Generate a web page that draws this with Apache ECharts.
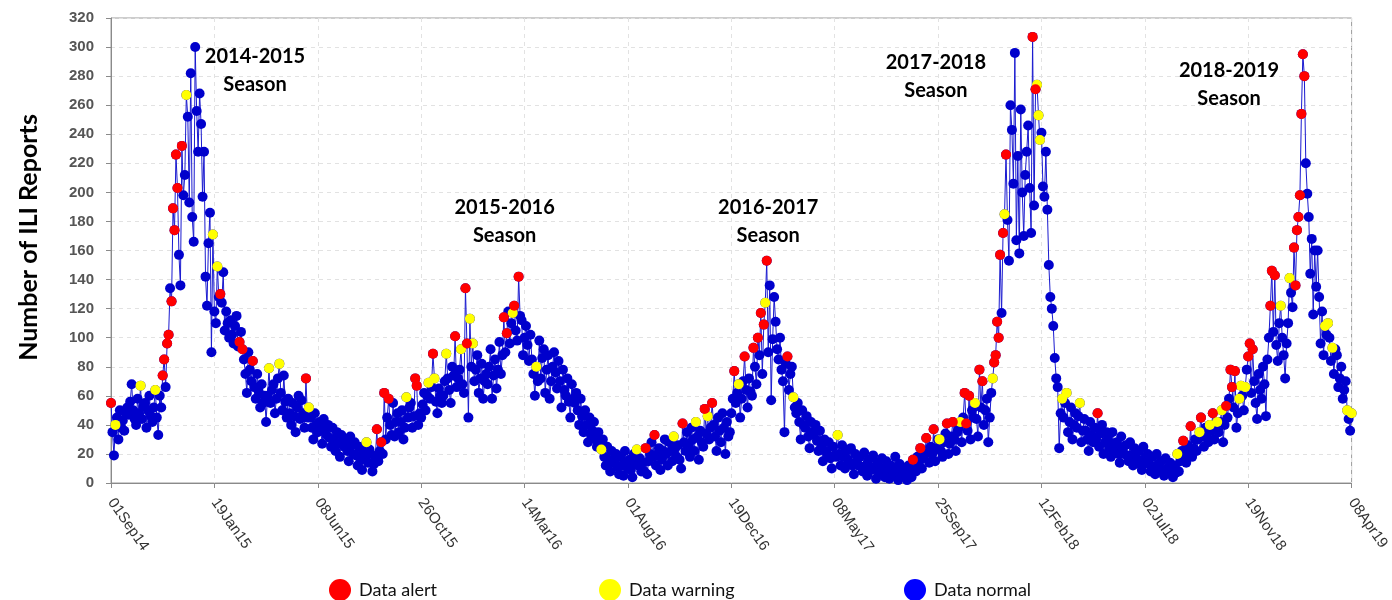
<!DOCTYPE html>
<html>
<head>
<meta charset="utf-8">
<script src="https://cdn.jsdelivr.net/npm/echarts@6/dist/echarts.min.js"></script>
<style>
html,body{margin:0;padding:0;background:#fff;}
#chart{width:1392px;height:600px;}
</style>
</head>
<body>
<div id="chart"></div>
<script>
// ---- data ----
const startDateUTC = Date.UTC(2014, 8, 1); // 01Sep14
const dayStep = 2;          // one reading every 2 days
const tickDays = 140;       // axis tick spacing (days)
const axisDays = 1680;      // 01Sep14 .. 08Apr19
const monthNames = ['Jan','Feb','Mar','Apr','May','Jun','Jul','Aug','Sep','Oct','Nov','Dec'];

const counts = [
55,35,19,40,45,30,50,38,43,36,48,52,47,56,68,
50,44,40,58,48,67,44,53,55,38,50,60,46,42,52,
64,45,33,60,52,74,85,66,96,102,134,125,189,174,226,
203,157,136,232,198,212,267,252,193,282,183,166,300,256,228,
268,247,197,228,142,122,165,186,90,171,118,110,149,128,130,
124,145,105,118,110,100,112,102,96,108,115,94,97,104,92,
85,75,62,90,78,70,84,66,58,75,63,52,68,55,60,
42,60,79,55,64,68,48,58,72,82,62,50,74,56,45,
58,48,40,55,46,35,52,60,44,57,48,38,72,45,52,
45,38,30,48,40,35,42,36,27,44,38,33,40,31,25,
38,30,22,35,27,18,33,28,25,30,22,15,32,26,20,
28,19,12,25,16,9,22,17,28,14,23,20,8,13,18,
37,15,22,28,20,62,30,45,58,40,33,55,32,42,48,
35,42,50,30,38,59,45,52,55,38,46,72,67,40,48,
45,54,62,50,60,69,58,66,89,72,56,48,65,60,55,
60,70,89,72,64,55,80,74,101,66,72,78,92,68,62,
134,96,45,113,80,96,70,78,88,62,72,82,58,70,75,
68,80,92,58,74,85,65,78,97,75,88,114,90,103,118,
96,110,117,122,105,98,142,115,112,88,100,108,95,84,102,
85,75,60,80,70,98,72,86,92,62,78,88,58,70,80,
90,76,65,84,70,52,78,64,60,72,56,45,68,58,55,
62,50,40,58,46,35,50,40,28,45,33,36,42,30,25,
35,28,23,30,18,12,25,16,8,22,14,15,20,11,6,
18,12,5,22,14,10,16,9,4,20,13,23,12,17,8,
14,8,24,6,15,20,28,18,33,12,20,24,9,16,22,
30,20,12,28,22,15,32,24,18,26,16,10,41,28,22,
35,26,18,38,30,22,42,32,16,36,28,25,51,34,46,
30,38,55,40,32,22,45,36,28,48,38,20,42,32,35,
48,58,77,55,62,68,45,58,70,87,64,52,72,63,60,
93,80,68,100,88,117,75,109,124,153,90,136,57,99,128,
111,92,85,100,78,70,35,82,87,64,75,80,59,52,48,
55,42,30,50,40,38,46,32,24,42,35,33,40,29,22,
36,25,15,30,22,20,28,17,10,25,19,18,33,20,12,
26,18,10,22,16,14,24,12,6,20,15,12,18,11,8,
21,12,5,16,10,9,19,11,3,14,8,7,17,10,4,
15,8,3,12,9,6,18,10,2,13,7,5,10,6,2,
12,6,4,16,9,8,18,13,24,10,17,20,31,22,14,
25,20,37,15,24,30,30,22,18,28,34,41,20,27,32,
42,30,22,35,38,42,28,45,62,41,36,60,30,50,45,
55,44,32,78,52,70,40,50,58,28,45,62,72,83,88,
111,100,157,117,172,185,226,181,153,260,243,206,296,167,225,
158,257,200,170,212,228,246,203,172,307,191,271,274,253,236,
241,204,197,228,188,150,128,120,108,86,72,66,24,48,58,
45,55,62,35,42,52,30,40,48,38,46,55,28,36,44,
36,30,22,42,33,28,38,30,48,25,34,40,20,28,35,
30,24,18,35,27,22,28,20,14,32,24,20,26,19,15,
28,19,12,24,18,16,22,13,9,25,17,14,20,13,8,
18,11,6,20,13,10,15,9,5,17,10,8,14,9,4,
12,7,20,8,15,22,29,18,14,26,21,39,18,24,30,
22,30,35,45,32,25,38,33,28,40,36,48,30,38,42,
35,42,50,28,40,53,45,58,78,66,52,77,38,48,58,
67,60,50,66,78,87,96,62,92,70,55,44,75,64,58,
80,68,46,85,100,122,146,104,143,95,84,110,122,100,88,
72,96,110,141,131,121,162,136,174,183,198,254,295,280,220,
199,183,144,168,116,160,135,160,128,96,118,88,108,102,110,
100,84,93,75,92,88,66,72,80,58,64,70,50,44,36,
48
];

// indices (into counts) flagged as alerts / warnings
const alertIdx = [0,35,36,38,39,41,42,43,44,45,48,74,87,89,96,132,180,183,185,188,206,207,218,233,240,241,
  266,268,273,276,362,368,387,402,407,422,429,435,438,440,442,444,458,543,548,552,557,566,570,578,579,581,
  588,590,598,599,600,601,602,604,606,624,626,668,726,731,738,746,755,758,759,761,770,771,773,785,786,788,
  801,802,803,804,805,806,807,808];
const warnIdx = [3,20,30,51,69,72,107,114,134,173,200,215,219,227,237,243,245,272,288,332,356,381,396,404,
  425,443,462,492,561,575,585,597,605,627,628,629,644,647,656,722,737,744,749,752,764,765,768,792,798,
  822,824,827,837,840];

const seriesNames = ['Data alert', 'Data warning', 'Data normal'];
const yTicks = {min: 0, max: 320, step: 20};

const seasonLabels = [
  {text: '2014-2015\nSeason', day: 195,  value: 284},
  {text: '2015-2016\nSeason', day: 533,  value: 180},
  {text: '2016-2017\nSeason', day: 890,  value: 180},
  {text: '2017-2018\nSeason', day: 1117, value: 280},
  {text: '2018-2019\nSeason', day: 1514, value: 274}
];

// ---- build ----
const allPts = counts.map((v, i) => [i * dayStep, v]);
const alertPts = alertIdx.map(i => allPts[i]);
const warnPts = warnIdx.map(i => allPts[i]);

function fmtDay(v) {
  const d = new Date(startDateUTC + v * 86400000);
  const dd = String(d.getUTCDate()).padStart(2, '0');
  return dd + monthNames[d.getUTCMonth()] + String(d.getUTCFullYear()).slice(2);
}

const chart = echarts.init(document.getElementById('chart'), null, {renderer: 'canvas'});
const legendBase = {
  orient: 'horizontal', top: 574, icon: 'circle', itemWidth: 22, itemHeight: 22,
  selectedMode: false,
  textStyle: {fontFamily: 'Lato', fontSize: 18, color: '#111', padding: [0, 0, 0, 3]}
};
chart.setOption({
  animation: false,
  backgroundColor: '#fff',
  grid: {left: 111, right: 39, top: 18, bottom: 117, show: true, borderColor: '#9a9a9a', borderWidth: 1, containLabel: false},
  legend: [
    Object.assign({}, legendBase, {left: 324, data: [{name: seriesNames[0], itemStyle: {color: '#ff0000'}}]}),
    Object.assign({}, legendBase, {left: 594, data: [{name: seriesNames[1], itemStyle: {color: '#ffff00'}}]}),
    Object.assign({}, legendBase, {left: 899, data: [{name: seriesNames[2], itemStyle: {color: '#0000ff'}}]})
  ],
  xAxis: {
    type: 'value', min: 0, max: axisDays, interval: tickDays, offset: 9,
    axisLine: {show: true, lineStyle: {color: '#8a8a8a'}},
    axisTick: {show: true, length: 5, lineStyle: {color: '#8a8a8a'}},
    axisLabel: {rotate: -55, formatter: fmtDay, color: '#333', fontFamily: 'Liberation Sans', fontSize: 15, margin: 8},
    splitLine: {show: true, lineStyle: {color: '#e2e2e2', type: [4, 4]}}
  },
  yAxis: {
    type: 'value', min: yTicks.min, max: yTicks.max, interval: yTicks.step, offset: 7,
    name: 'Number of ILI Reports', nameLocation: 'middle', nameGap: 63, nameRotate: 90,
    nameTextStyle: {fontFamily: 'Lato', fontWeight: 'bold', fontSize: 25, color: '#000', padding: [0, 0, 0, 26]},
    axisLine: {show: true, lineStyle: {color: '#8a8a8a'}},
    axisTick: {show: true, length: 5, lineStyle: {color: '#8a8a8a'}},
    axisLabel: {color: '#555', fontFamily: 'Liberation Sans', fontWeight: 'bold', fontSize: 15, margin: 10},
    splitLine: {show: true, lineStyle: {color: '#e2e2e2', type: [4, 4]}}
  },
  series: [
    {
      name: seriesNames[2], type: 'line', data: allPts, symbol: 'circle', symbolSize: 10,
      showSymbol: true, showAllSymbol: true, sampling: null, z: 2,
      itemStyle: {color: '#0000cc'}, lineStyle: {color: '#1a1ad0', width: 1},
      emphasis: {disabled: true}
    },
    {
      name: seriesNames[1], type: 'scatter', data: warnPts, symbol: 'circle', symbolSize: 10, z: 3,
      itemStyle: {color: '#ffff00', opacity: 1}, emphasis: {disabled: true}
    },
    {
      name: seriesNames[0], type: 'scatter', data: alertPts, symbol: 'circle', symbolSize: 10, z: 4,
      itemStyle: {color: '#ff0000', opacity: 1}, emphasis: {disabled: true}
    }
  ]
});

const graphics = seasonLabels.map(s => {
  const p = chart.convertToPixel({gridIndex: 0}, [s.day, s.value]);
  return {
    type: 'text', x: p[0], y: p[1], z: 10,
    style: {text: s.text, fill: '#000', font: 'bold 20px Lato', align: 'center', verticalAlign: 'middle', lineHeight: 28}
  };
});
chart.setOption({graphic: graphics});
</script>
</body>
</html>
